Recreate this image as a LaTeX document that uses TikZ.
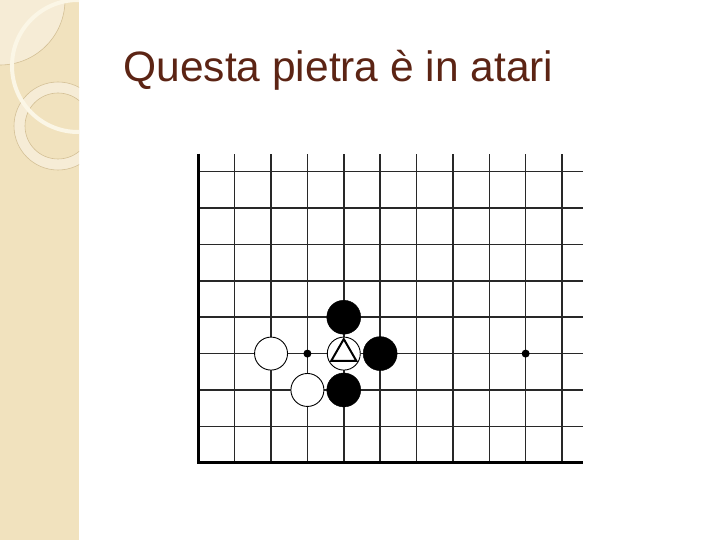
\documentclass[tikz,border=0pt]{standalone}
\usepackage{fontspec}
\setmainfont{Liberation Sans}
\usetikzlibrary{shapes.geometric}
\definecolor{strip}{RGB}{241,226,190}
\definecolor{stripLight}{RGB}{246,236,214}
\definecolor{stripLine}{RGB}{212,192,150}
\definecolor{stripArc}{RGB}{251,246,230}
\definecolor{titlebrown}{RGB}{92,36,20}
\definecolor{gridgray}{RGB}{40,40,40}

\begin{document}
\begin{tikzpicture}[x=1pt,y=-1pt,
  gridline/.style = {gridgray, line width=1.5pt},
  edgeline/.style = {black, line width=2.8pt},
  blackstone/.style = {draw, circle, fill=black, minimum size=34pt, inner sep=0pt},
  whitestone/.style = {draw, circle, fill=white, line width=0.9pt, minimum size=33pt, inner sep=0pt},
  hoshi/.style = {circle, fill=black, minimum size=8pt, inner sep=0pt},
  marker/.style = {draw, regular polygon, regular polygon sides=3, minimum size=29pt, inner sep=0pt, line width=2pt}]
            \useasboundingbox (0,0) rectangle (720,540);
            % left strip
            \fill[strip] (0,0) rectangle (79,540);
            \begin{scope}
                \clip (0,0) rectangle (79,540);
                \fill[stripLight, draw=stripLine, line width=0.6pt] (0,0) circle (65);
                \fill[stripLight, draw=stripLine, line width=0.6pt] (58,126) circle (44);
                \fill[strip, draw=stripLine, line width=0.6pt] (58,126) circle (33);
                \draw[stripArc, line width=4pt] (78,66) circle (66);
            \end{scope}
            % title
            \node[anchor=base west, text=titlebrown, font=\fontsize{42.5}{50}\selectfont] (title) at (120,82) {Questa pietra è in atari};
            % board
            \begin{scope}[shift={(198.3,462.7)}, x=36.37pt, y=36.37pt]
                \foreach \i in {1,...,10}
                    \draw[gridline] (\i,0) -- (\i,8.5);
                \foreach \j in {1,...,8}
                    \draw[gridline] (0,\j) -- (10.58,\j);
                \draw[edgeline] (0,8.5) -- (0,0) -- (10.58,0);
                \node[hoshi] (h1) at (3,3) {};
                \node[hoshi] (h2) at (9,3) {};
                \node[blackstone] (b1) at (4,4) {};
                \node[blackstone] (b2) at (5,3) {};
                \node[blackstone] (b3) at (4,2) {};
                \node[whitestone] (w1) at (2,3) {};
                \node[whitestone] (w2) at (3,2) {};
                \node[whitestone] (w3) at (4,3) {};
                \node[marker] (tri) at (w3.center) {};
            \end{scope}
        \end{tikzpicture}
\end{document}
